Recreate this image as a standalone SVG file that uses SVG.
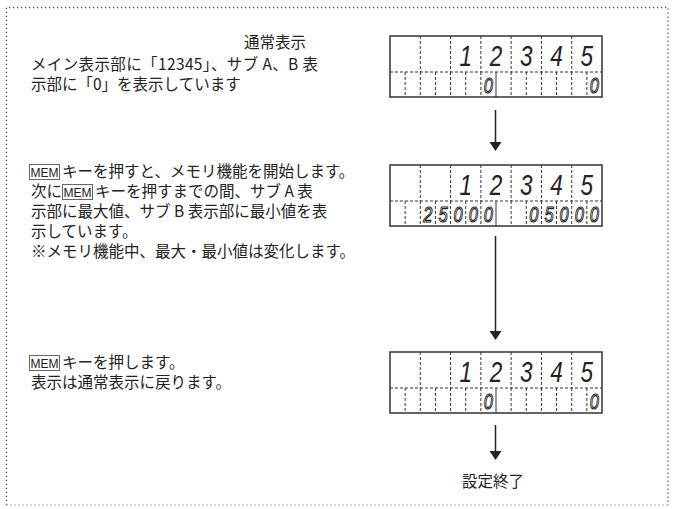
<svg xmlns="http://www.w3.org/2000/svg" width="675" height="509" viewBox="0 0 675 509">
<defs>
<style>
.t{font-family:"Noto Sans CJK JP","Noto Sans CJK SC",sans-serif;font-size:15.5px;fill:#222}
.mem{font-family:"Liberation Sans",Arial,sans-serif;font-size:12px;fill:#222}
.mbox{fill:none;stroke:#666;stroke-width:1}
.frame{stroke:#555;stroke-width:1.3;stroke-dasharray:1.3 2.7;fill:none}
.frameb{stroke:#aaa;stroke-width:1.3;stroke-dasharray:1.3 2.7;fill:none}
.outer{fill:#fff;stroke:#333;stroke-width:1.5}
.dash{stroke:#333;stroke-width:1;stroke-dasharray:3 2;fill:none}
.solid{stroke:#333;stroke-width:1;fill:none}
.big{font-family:"Liberation Sans",sans-serif;font-style:italic;font-size:30px;fill:#222;text-anchor:middle}
.small{font-family:"Liberation Sans",sans-serif;font-style:italic;font-size:22px;fill:#fff;stroke:#222;stroke-width:1.1;text-anchor:middle}
.conn{stroke:#222;stroke-width:1.5;fill:none}
</style>
<g id="grid">
<rect class="outer" x="0" y="0" width="212" height="61"/>
<path class="dash" d="M30.29,0V36M60.57,0V36M90.86,0V36M121.14,0V36M151.43,0V36M181.71,0V36"/>
<path class="dash" d="M15.14,36V61M30.29,36V61M45.43,36V61M60.57,36V61M75.71,36V61M90.86,36V61M121.14,36V61M136.29,36V61M151.43,36V61M166.57,36V61M181.71,36V61M196.86,36V61"/>
<path class="solid" d="M106,36V61"/>
<path class="dash" d="M0,36H212"/>
<text class="big" transform="scale(0.75,1)" x="100.9 141.3 181.7 222.1 262.5" y="30">12345</text>
</g>
</defs>

<g id="frame">
<path class="frame" d="M6.5,505V7.5H668V505"/>
<path class="frameb" d="M6.5,505H668"/>
</g>

<g id="step1-text">
<text class="t" x="275" y="48" text-anchor="middle">通常表示</text>
<text class="t" x="31" y="70" textLength="287">メイン表示部に「12345」、サブ A、B 表</text>
<text class="t" x="31" y="90">示部に「0」を表示しています</text>
</g>

<g id="step2-text">
<rect class="mbox" x="29.5" y="164.5" width="30" height="15"/>
<text class="mem" x="30.5" y="176.5">MEM</text>
<text class="t" x="62" y="177">キーを押すと、メモリ機能を開始します。</text>
<text class="t" x="31" y="197">次に</text>
<rect class="mbox" x="62.5" y="184.5" width="30" height="15"/>
<text class="mem" x="63.5" y="196.5">MEM</text>
<text class="t" x="95" y="197">キーを押すまでの間、サブ A 表</text>
<text class="t" x="31" y="217">示部に最大値、サブ B 表示部に最小値を表</text>
<text class="t" x="31" y="237">示しています。</text>
<text class="t" x="31" y="257">※メモリ機能中、最大・最小値は変化します。</text>
</g>

<g id="step3-text">
<rect class="mbox" x="29.5" y="355.5" width="30" height="15"/>
<text class="mem" x="30.5" y="367.5">MEM</text>
<text class="t" x="62" y="368">キーを押します。</text>
<text class="t" x="31" y="388">表示は通常表示に戻ります。</text>
</g>

<g id="display1" transform="translate(390,36)">
<use href="#grid"/>
<text class="small" transform="scale(0.75,1)" x="131.2 272.5" y="57">00</text>
</g>

<g id="display2" transform="translate(390,165)">
<use href="#grid"/>
<text class="small" transform="scale(0.75,1)" x="50.5 70.7 90.8 111.1 131.2 191.7 212 232.1 252.4 272.5" y="57">2500005000</text>
</g>

<g id="display3" transform="translate(390,352)">
<use href="#grid"/>
<text class="small" transform="scale(0.75,1)" x="131.2 272.5" y="57">00</text>
</g>

<g id="end">
<text class="t" x="493" y="487" text-anchor="middle">設定終了</text>
</g>

<g id="connectors">
<path class="conn" d="M495.5,110V144"/>
<path d="M489.5,142L501.5,142L495.5,151Z" fill="#222"/>
<path class="conn" d="M495.5,236V333"/>
<path d="M489.5,331L501.5,331L495.5,340Z" fill="#222"/>
<path class="conn" d="M495.5,425V453"/>
<path d="M489.5,451L501.5,451L495.5,460Z" fill="#222"/>
</g>
</svg>
